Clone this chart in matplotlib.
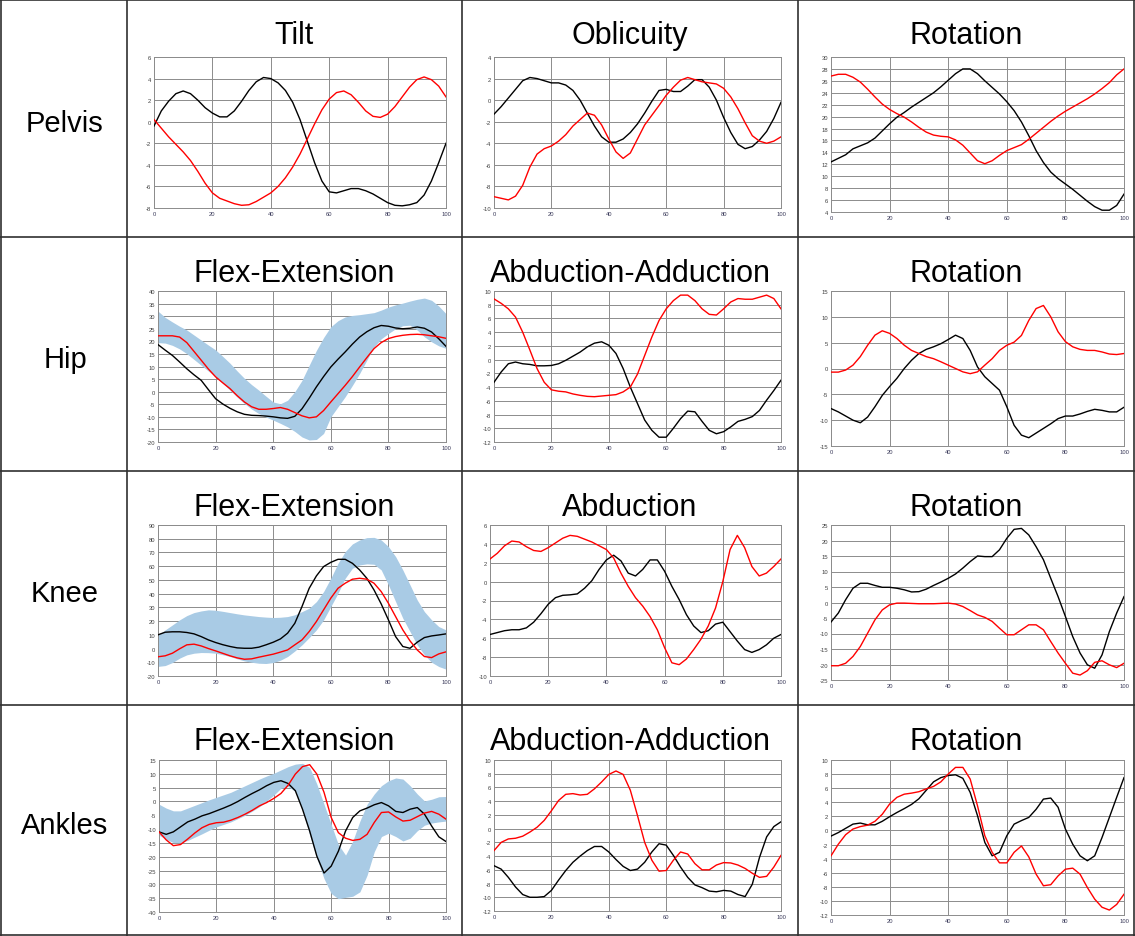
import numpy as np
import matplotlib.pyplot as plt

plt.rcParams['font.family'] = ['Liberation Sans', 'DejaVu Sans']
plt.rcParams['axes.unicode_minus'] = False

# gait cycle (%) sampled every 2.5
ciclo = np.arange(0, 100.1, 2.5)

filas = ["Pelvis", "Hip", "Knee", "Ankles"]
titulos = [["Tilt", "Oblicuity", "Rotation"],
           ["Flex-Extension", "Abduction-Adduction", "Rotation"],
           ["Flex-Extension", "Abduction", "Rotation"],
           ["Flex-Extension", "Abduction-Adduction", "Rotation"]]

# ---- Pelvis ----
pel_tilt_neg = [-0.4, 1.0, 1.9, 2.6, 2.85, 2.6, 2.0, 1.3, 0.8, 0.45, 0.45, 1.0, 1.9, 2.9, 3.7, 4.1, 4.0,
                3.6, 2.9, 1.8, 0.2, -1.8, -3.8, -5.5, -6.5, -6.6, -6.4, -6.2, -6.2, -6.4, -6.7, -7.1,
                -7.5, -7.75, -7.8, -7.7, -7.5, -6.8, -5.5, -3.8, -2.0]
pel_tilt_roj = [0.2, -0.6, -1.4, -2.1, -2.8, -3.6, -4.6, -5.7, -6.6, -7.1, -7.35, -7.6, -7.75, -7.7, -7.4,
                -7.0, -6.6, -6.0, -5.2, -4.2, -3.0, -1.6, -0.2, 1.1, 2.1, 2.7, 2.85, 2.5, 1.8, 1.0, 0.5,
                0.4, 0.7, 1.4, 2.3, 3.2, 3.9, 4.15, 3.9, 3.3, 2.3]
pel_obl_neg = [-1.3, -0.6, 0.2, 1.0, 1.8, 2.1, 2.0, 1.8, 1.6, 1.6, 1.4, 0.9, 0.0, -1.2, -2.4, -3.4, -3.9,
               -3.9, -3.6, -3.0, -2.2, -1.2, -0.1, 0.9, 1.0, 0.8, 0.8, 1.3, 1.9, 1.9, 1.2, 0.0, -1.6,
               -3.0, -4.1, -4.5, -4.3, -3.7, -2.9, -1.7, -0.2]
pel_obl_roj = [-8.95, -9.1, -9.25, -8.9, -7.9, -6.2, -5.0, -4.5, -4.25, -3.8, -3.2, -2.4, -1.8, -1.2, -1.4,
               -2.3, -3.6, -4.8, -5.4, -4.9, -3.6, -2.3, -1.4, -0.5, 0.45, 1.2, 1.85, 2.1, 1.9, 1.7, 1.6,
               1.5, 1.1, 0.3, -0.8, -2.1, -3.3, -3.8, -4.0, -3.8, -3.4]
pel_rot_neg = [12.4, 13.0, 13.6, 14.6, 15.1, 15.6, 16.4, 17.6, 18.8, 19.9, 20.7, 21.6, 22.4, 23.2, 24.0,
               25.0, 26.1, 27.2, 28.0, 28.0, 27.2, 26.0, 24.9, 23.8, 22.5, 21.0, 19.1, 16.8, 14.3, 12.3,
               10.7, 9.6, 8.7, 7.8, 6.8, 5.8, 4.9, 4.3, 4.3, 5.1, 7.0]
pel_rot_roj = [26.8, 27.1, 27.1, 26.6, 25.8, 24.6, 23.3, 22.1, 21.2, 20.5, 19.9, 19.1, 18.2, 17.4, 16.9,
               16.7, 16.6, 16.1, 15.2, 13.9, 12.6, 12.1, 12.6, 13.5, 14.3, 14.8, 15.3, 16.2, 17.2, 18.2,
               19.2, 20.1, 20.9, 21.6, 22.3, 23.0, 23.8, 24.7, 25.7, 27.0, 28.0]

# ---- Hip ----
cad_flex_neg = [18.7, 16.5, 14.4, 11.8, 9.1, 6.7, 4.5, 0.8, -2.8, -4.9, -6.6, -8.0, -9.0, -9.4, -9.5,
                -9.7, -10.0, -10.4, -10.6, -9.8, -6.8, -2.6, 1.9, 6.0, 9.8, 12.9, 15.8, 18.9, 21.7, 23.8,
                25.4, 26.3, 26.0, 25.3, 25.0, 25.2, 25.7, 25.2, 23.7, 21.0, 18.0]
cad_flex_roj = [22.2, 22.2, 22.2, 21.7, 19.5, 16.0, 12.5, 9.0, 5.9, 3.5, 1.2, -1.6, -4.1, -6.0, -7.0,
                -7.0, -6.7, -6.3, -7.0, -8.3, -9.6, -10.4, -10.0, -7.5, -4.1, -0.8, 2.5, 6.0, 9.8, 13.5,
                17.1, 19.5, 21.1, 21.9, 22.4, 22.7, 22.8, 22.6, 22.2, 21.8, 21.2]
cad_flex_sup = [32.0, 29.5, 27.7, 26.0, 24.5, 22.5, 20.5, 18.5, 16.6, 14.0, 11.3, 8.2, 5.3, 2.8, 0.6,
                -1.8, -4.1, -4.8, -3.4, 0.0, 4.5, 10.5, 16.4, 21.5, 25.8, 28.2, 29.7, 30.3, 30.6, 31.0,
                31.4, 32.4, 33.6, 34.5, 35.2, 36.0, 36.7, 37.2, 36.3, 34.0, 31.0]
cad_flex_inf = [19.5, 19.3, 18.4, 17.0, 15.1, 12.8, 10.5, 8.2, 5.9, 3.3, 0.6, -2.2, -4.7, -6.9, -8.7,
                -10.1, -11.3, -12.6, -14.0, -15.8, -18.0, -19.2, -19.0, -16.6, -10.0, -6.0, -2.0, 2.5,
                7.2, 12.5, 17.8, 21.0, 23.1, 25.0, 26.2, 26.4, 24.5, 21.8, 19.8, 18.2, 17.2]
cad_abd_neg = [-3.3, -1.8, -0.6, -0.35, -0.6, -0.7, -0.9, -0.9, -0.85, -0.6, -0.1, 0.5, 1.1, 1.85, 2.4,
               2.6, 2.1, 0.9, -1.3, -4.0, -6.4, -8.8, -10.3, -11.3, -11.3, -10.0, -8.6, -7.5, -7.6,
               -9.0, -10.3, -10.8, -10.5, -9.8, -9.0, -8.7, -8.3, -7.4, -5.9, -4.5, -3.0]
cad_abd_roj = [8.85, 8.2, 7.4, 6.2, 4.0, 1.4, -1.3, -3.3, -4.4, -4.6, -4.7, -5.0, -5.2, -5.35, -5.4,
               -5.3, -5.2, -5.1, -4.7, -4.0, -2.1, 0.6, 3.3, 5.7, 7.4, 8.6, 9.4, 9.4, 8.6, 7.4, 6.6,
               6.5, 7.4, 8.4, 8.9, 8.8, 8.8, 9.1, 9.4, 8.9, 7.4]
cad_rot_neg = [-7.75, -8.4, -9.2, -10.0, -10.5, -9.4, -7.4, -5.2, -3.5, -1.9, 0.0, 1.6, 2.9, 3.7, 4.2,
               4.8, 5.6, 6.45, 5.8, 3.5, 0.3, -1.6, -2.9, -4.2, -7.4, -11.0, -12.9, -13.4, -12.5, -11.6,
               -10.7, -9.7, -9.2, -9.2, -8.8, -8.3, -7.9, -8.1, -8.4, -8.4, -7.5]
cad_rot_roj = [-0.7, -0.7, -0.3, 0.65, 2.3, 4.5, 6.45, 7.3, 6.8, 5.8, 4.5, 3.5, 2.9, 2.3, 1.9, 1.3, 0.65,
               0.0, -0.65, -1.0, -0.65, 0.65, 1.9, 3.5, 4.5, 5.1, 6.4, 9.3, 11.6, 12.2, 10.0, 7.1, 5.2,
               4.2, 3.7, 3.5, 3.5, 3.2, 2.8, 2.7, 2.9]

# ---- Knee ----
rod_flex_neg = [10.0, 11.9, 12.2, 12.2, 11.7, 10.7, 8.7, 6.3, 4.4, 2.8, 1.5, 0.5, 0.2, 0.2, 1.0, 2.7, 4.6,
                7.0, 11.2, 18.4, 30.6, 43.9, 52.9, 59.7, 62.8, 65.0, 65.0, 62.1, 57.3, 51.2, 42.7, 32.5,
                20.9, 8.7, 1.5, 0.2, 4.6, 8.0, 9.2, 9.9, 10.7]
rod_flex_roj = [-6.0, -5.3, -3.4, -0.2, 2.7, 3.2, 1.9, 0.0, -1.7, -3.5, -5.3, -6.8, -7.8, -7.5, -6.3,
                -5.2, -4.1, -2.6, -1.0, 2.7, 6.3, 12.4, 19.7, 28.2, 36.7, 43.9, 47.6, 50.5, 51.2, 50.5,
                47.6, 41.5, 33.0, 23.3, 13.6, 5.6, -1.0, -5.8, -6.6, -3.9, -2.4]
rod_flex_sup = [10.0, 13.6, 17.2, 20.9, 24.0, 26.2, 27.4, 28.2, 27.9, 27.1, 26.2, 25.3, 24.5, 23.9, 23.3,
                22.9, 22.6, 22.8, 23.3, 24.6, 26.9, 29.4, 34.2, 41.5, 51.2, 62.1, 70.6, 76.2, 79.1, 80.8,
                81.0, 79.1, 74.3, 67.0, 57.3, 46.4, 35.4, 26.9, 20.9, 16.0, 13.6]
rod_flex_inf = [-13.0, -12.4, -10.2, -7.0, -4.6, -3.4, -2.9, -3.0, -3.4, -4.5, -5.8, -7.5, -9.0, -10.0,
                -10.7, -10.9, -10.2, -8.5, -5.8, -1.8, 2.7, 8.0, 13.6, 20.9, 30.6, 40.3, 51.2, 58.5, 60.9,
                61.7, 61.4, 57.3, 46.4, 34.2, 22.1, 12.4, 2.7, -4.6, -10.0, -13.1, -15.0]
rod_abd_neg = [-5.6, -5.4, -5.2, -5.1, -5.1, -4.9, -4.3, -3.4, -2.4, -1.7, -1.45, -1.4, -1.3, -0.7, 0.1,
               1.3, 2.3, 2.8, 2.2, 0.9, 0.6, 1.3, 2.3, 2.3, 1.1, -0.5, -1.9, -3.5, -4.7, -5.4, -5.2,
               -4.5, -4.3, -5.3, -6.3, -7.2, -7.5, -7.2, -6.7, -6.0, -5.6]
rod_abd_roj = [2.4, 3.0, 3.8, 4.3, 4.2, 3.7, 3.3, 3.2, 3.6, 4.1, 4.6, 4.9, 4.8, 4.5, 4.2, 3.8, 3.4, 2.5,
               0.9, -0.5, -1.7, -2.6, -3.7, -5.1, -7.0, -8.6, -8.8, -8.2, -7.2, -6.1, -4.7, -2.8, 0.0,
               3.4, 4.9, 3.6, 1.6, 0.6, 0.9, 1.6, 2.4]
rod_rot_neg = [-6.3, -3.4, 0.9, 4.6, 6.2, 6.2, 5.5, 4.9, 4.9, 4.6, 4.1, 3.4, 3.5, 4.3, 5.5, 6.6, 7.8, 9.2,
               11.1, 13.2, 15.0, 14.8, 14.8, 17.0, 20.7, 23.6, 23.9, 21.8, 18.0, 13.8, 7.8, 1.9, -4.5,
               -11.0, -16.3, -20.1, -21.2, -16.9, -9.4, -3.4, 1.9]
rod_rot_roj = [-20.4, -20.4, -19.6, -17.4, -14.2, -9.9, -5.6, -2.4, -0.75, -0.2, -0.2, -0.3, -0.4, -0.4,
               -0.4, -0.3, -0.2, -0.5, -1.3, -2.6, -4.0, -4.8, -6.1, -8.3, -10.4, -10.4, -8.8, -7.2,
               -7.2, -8.8, -12.6, -16.3, -19.6, -22.8, -23.4, -22.0, -19.3, -18.8, -20.1, -21.0, -19.6]

# ---- Ankle ----
tob_flex_neg = [-11.0, -11.9, -11.0, -9.2, -7.4, -6.4, -5.2, -4.4, -3.4, -2.4, -1.3, 0.0, 1.5, 2.9, 4.2,
                5.7, 6.9, 7.5, 6.5, 3.9, -2.8, -10.7, -19.8, -25.9, -23.4, -18.0, -10.7, -5.8, -3.4,
                -2.4, -1.2, -0.4, -1.6, -3.6, -4.0, -2.8, -2.2, -4.6, -8.9, -12.8, -14.5]
tob_flex_roj = [-11.0, -13.9, -16.0, -15.6, -13.6, -11.4, -9.5, -8.3, -7.7, -7.5, -6.8, -5.8, -4.6, -3.2,
                -1.6, -0.4, 1.1, 2.9, 5.9, 9.9, 12.6, 13.3, 9.9, 3.3, -5.8, -11.3, -13.3, -14.1, -13.7,
                -11.9, -7.6, -4.0, -3.8, -5.6, -7.1, -6.8, -5.5, -4.2, -3.6, -4.6, -6.4]
tob_flex_sup = [-1.0, -2.4, -3.4, -3.4, -2.4, -1.4, -0.4, 0.6, 1.5, 2.4, 3.3, 4.5, 5.7, 6.9, 8.1, 9.2,
                10.2, 11.4, 12.6, 13.5, 13.8, 12.3, 6.3, -1.0, -8.3, -15.6, -19.4, -14.4, -7.1, -1.0,
                2.7, 5.7, 7.5, 8.5, 8.1, 5.7, 2.7, 0.2, 0.8, 1.7, 1.8]
tob_flex_inf = [-12.2, -13.7, -14.9, -14.9, -14.1, -12.9, -11.7, -10.4, -9.2, -8.3, -7.4, -6.2, -5.0,
                -3.5, -1.9, 0.2, 2.3, 4.8, 5.4, 3.6, -3.1, -12.2, -20.6, -27.9, -33.3, -35.2, -34.7,
                -34.3, -32.7, -26.7, -18.2, -12.7, -11.5, -12.7, -14.3, -13.3, -10.6, -8.6, -7.8, -7.4,
                -7.1]
tob_abd_neg = [-5.4, -5.9, -7.1, -8.5, -9.6, -10.0, -10.0, -9.9, -9.0, -7.5, -6.1, -4.9, -4.0, -3.2,
               -2.6, -2.6, -3.4, -4.5, -5.5, -6.1, -5.9, -4.9, -3.4, -2.2, -2.4, -3.9, -5.6, -7.1,
               -8.2, -8.6, -9.1, -9.2, -9.0, -9.1, -9.6, -9.9, -8.1, -4.2, -1.2, 0.3, 1.0]
tob_abd_roj = [-3.2, -2.0, -1.5, -1.4, -1.1, -0.5, 0.2, 1.2, 2.6, 4.1, 5.0, 5.1, 4.9, 5.0, 5.8, 6.8, 7.9,
               8.4, 7.9, 5.6, 1.9, -2.0, -4.6, -6.2, -6.1, -4.6, -3.4, -3.7, -5.1, -6.0, -6.0, -5.3,
               -4.95, -5.0, -5.3, -5.8, -6.5, -7.1, -6.95, -5.6, -3.9]
tob_rot_neg = [-0.8, -0.3, 0.3, 0.9, 1.05, 0.8, 0.8, 1.3, 1.95, 2.55, 3.1, 3.7, 4.5, 5.7, 6.9, 7.5, 7.8,
               7.9, 7.4, 5.4, 2.1, -1.7, -3.6, -3.1, -0.75, 0.9, 1.4, 1.85, 3.0, 4.45, 4.6, 3.3, 0.2,
               -1.95, -3.6, -4.3, -3.6, -1.0, 1.85, 4.7, 7.5]
tob_rot_roj = [-3.6, -1.95, -0.6, 0.2, 0.55, 0.75, 1.3, 2.3, 3.75, 4.7, 5.15, 5.3, 5.5, 5.9, 6.25, 6.9,
               8.0, 8.95, 8.95, 7.3, 3.5, -0.75, -3.1, -4.6, -4.6, -3.1, -2.2, -3.75, -6.2, -7.85,
               -7.7, -6.45, -5.5, -5.35, -6.2, -8.1, -9.75, -10.9, -11.3, -10.5, -9.05]

curvas = [[(pel_tilt_neg, pel_tilt_roj), (pel_obl_neg, pel_obl_roj), (pel_rot_neg, pel_rot_roj)],
          [(cad_flex_neg, cad_flex_roj), (cad_abd_neg, cad_abd_roj), (cad_rot_neg, cad_rot_roj)],
          [(rod_flex_neg, rod_flex_roj), (rod_abd_neg, rod_abd_roj), (rod_rot_neg, rod_rot_roj)],
          [(tob_flex_neg, tob_flex_roj), (tob_abd_neg, tob_abd_roj), (tob_rot_neg, tob_rot_roj)]]

# normal bands (only sagittal plane)
bandas = {(1, 0): (cad_flex_inf, cad_flex_sup),
          (2, 0): (rod_flex_inf, rod_flex_sup),
          (3, 0): (tob_flex_inf, tob_flex_sup)}

# y-axis (min, max, step)
ejes_y = [[(-8, 6, 2), (-10, 4, 2), (4, 30, 2)],
          [(-20, 40, 5), (-12, 10, 2), (-15, 15, 5)],
          [(-20, 90, 10), (-10, 6, 2), (-25, 25, 5)],
          [(-40, 15, 5), (-12, 10, 2), (-12, 10, 2)]]

# ---- layout in pixels ----
W, H = 1135, 937
col_x = [0, 127, 462, 798, W]
fil_y = [0, 238, 472, 706, H]
izq = [[154, 494, 831], [158, 494, 831], [158, 490, 831], [159, 494, 831]]
der = [446, 781, 1124]
arr = [58, 292, 526, 761]
abj = [[209, 209, 213], [443, 443, 447], [677, 677, 681], [913, 912, 916]]

fig = plt.figure(figsize=(W / 100, H / 100), dpi=100)

for i in range(4):
    fig.text(65 / W, 1 - ((fil_y[i] + fil_y[i + 1]) / 2 + 5) / H, filas[i],
             ha='center', va='center', fontsize=21)
    for j in range(3):
        x0, x1 = izq[i][j], der[j]
        y0, y1 = arr[i], abj[i][j]
        ax = fig.add_axes([x0 / W, 1 - y1 / H, (x1 - x0) / W, (y1 - y0) / H])
        ymin, ymax, paso = ejes_y[i][j]

        if (i, j) in bandas:
            inf, sup = bandas[(i, j)]
            ax.fill_between(ciclo, inf, sup, color='#a9cbe5', lw=0, zorder=1)
        neg, roj = curvas[i][j]
        ax.plot(ciclo, neg, color='black', lw=1.0, zorder=3)
        ax.plot(ciclo, roj, color='#ff0000', lw=1.0, zorder=3)

        ax.set_xlim(0, 100)
        ax.set_ylim(ymin, ymax)
        ax.set_xticks(np.arange(0, 101, 20))
        ax.set_yticks(np.arange(ymin, ymax + 0.01, paso))
        ax.grid(True, color='#8c8c8c', lw=0.7, zorder=0)
        ax.set_axisbelow(True)
        for s in ax.spines.values():
            s.set_color('#8c8c8c')
            s.set_linewidth(0.7)
        ax.tick_params(labelsize=4.2, length=0, pad=2, colors='#404040')
        ax.tick_params(axis='x', labelcolor='#3a3a5a')

        fig.text((col_x[j + 1] + col_x[j + 2]) / 2 / W, 1 - (fil_y[i] + 36) / H, titulos[i][j],
                 ha='center', va='center', fontsize=22)

# table borders
for x in col_x:
    xx = min(max(x, 1), W - 1)
    fig.add_artist(plt.Line2D([xx / W, xx / W], [0, 1], color='#303030', lw=1.2))
for y in fil_y:
    yy = min(max(y, 1), H - 1)
    fig.add_artist(plt.Line2D([0, 1], [1 - yy / H, 1 - yy / H], color='#303030', lw=1.2))

fig.savefig('out.png', dpi=100, facecolor='white')
